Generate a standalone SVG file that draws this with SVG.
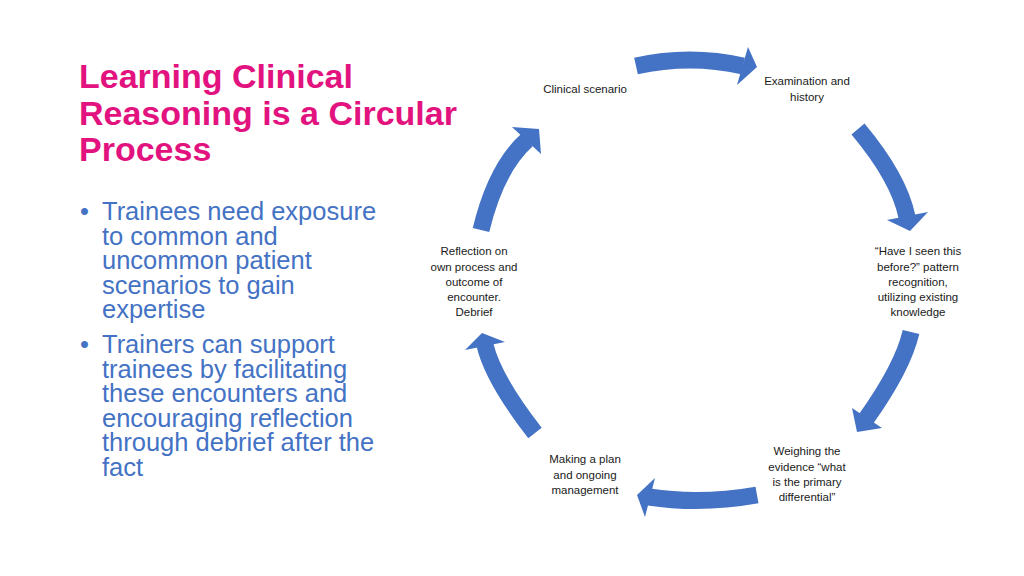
<svg xmlns="http://www.w3.org/2000/svg" width="1024" height="576" viewBox="0 0 1024 576">
<style>
.title{font-family:"Liberation Sans",Arial,sans-serif;font-weight:bold;font-size:34px;fill:#E2127F}
.body{font-family:"Liberation Sans",Arial,sans-serif;font-size:25.5px;fill:#4472C4}
.lbl{font-family:"Liberation Sans",Arial,sans-serif;font-size:11.5px;fill:#1a1a1a;text-anchor:middle}
.shaft{fill:none;stroke:#4472C4;stroke-width:17;stroke-linecap:butt}
.head{fill:#4472C4}
</style>
<rect width="1024" height="576" fill="#ffffff"/>
<g id="title">
<text class="title" x="79" y="88">Learning Clinical</text>
<text class="title" x="79" y="124.5">Reasoning is a Circular</text>
<text class="title" x="79" y="161">Process</text>
</g>
<g id="bullets">
<text class="body" x="80" y="220">•</text>
<text class="body" x="102" y="220">Trainees need exposure</text>
<text class="body" x="102" y="244.5">to common and</text>
<text class="body" x="102" y="269">uncommon patient</text>
<text class="body" x="102" y="293.5">scenarios to gain</text>
<text class="body" x="102" y="318">expertise</text>
<text class="body" x="80" y="353">•</text>
<text class="body" x="102" y="353">Trainers can support</text>
<text class="body" x="102" y="377.5">trainees by facilitating</text>
<text class="body" x="102" y="402">these encounters and</text>
<text class="body" x="102" y="426.5">encouraging reflection</text>
<text class="body" x="102" y="451">through debrief after the</text>
<text class="body" x="102" y="475.5">fact</text>
</g>
<g id="connectors">
<path class="shaft" d="M636,66 Q690,54 743,66"/>
<polygon class="head" points="748,47 757,67 737,85"/>
<path class="shaft" d="M858,129 Q899,178 907,217"/>
<polygon class="head" points="887,220 910,231 928,212"/>
<path class="shaft" d="M911,332 Q903,367 866,419"/>
<polygon class="head" points="852,408 857,432 882,428"/>
<path class="shaft" d="M757,495 Q701,505 649,497"/>
<polygon class="head" points="655,478 637,495 645,517"/>
<path class="shaft" d="M535,433 Q493,379 485,345"/>
<polygon class="head" points="465,350 482,333 505,342"/>
<path class="shaft" d="M481,230 Q496,168 527,140"/>
<polygon class="head" points="512,127 539,129 541,154"/>
</g>
<g id="node-clinical-scenario">
<text class="lbl" x="585" y="93">Clinical scenario</text>
</g>
<g id="node-examination">
<text class="lbl" x="807" y="85">Examination and</text>
<text class="lbl" x="807" y="101">history</text>
</g>
<g id="node-pattern">
<text class="lbl" x="918" y="255">“Have I seen this</text>
<text class="lbl" x="918" y="270.5">before?” pattern</text>
<text class="lbl" x="918" y="286">recognition,</text>
<text class="lbl" x="918" y="301">utilizing existing</text>
<text class="lbl" x="918" y="316">knowledge</text>
</g>
<g id="node-weighing">
<text class="lbl" x="807" y="455">Weighing the</text>
<text class="lbl" x="807" y="470.5">evidence “what</text>
<text class="lbl" x="807" y="486">is the primary</text>
<text class="lbl" x="807" y="501">differential”</text>
</g>
<g id="node-plan">
<text class="lbl" x="585" y="463">Making a plan</text>
<text class="lbl" x="585" y="478.5">and ongoing</text>
<text class="lbl" x="585" y="494">management</text>
</g>
<g id="node-reflection">
<text class="lbl" x="474" y="255">Reflection on</text>
<text class="lbl" x="474" y="270.5">own process and</text>
<text class="lbl" x="474" y="286">outcome of</text>
<text class="lbl" x="474" y="301">encounter.</text>
<text class="lbl" x="474" y="316">Debrief</text>
</g>
</svg>
